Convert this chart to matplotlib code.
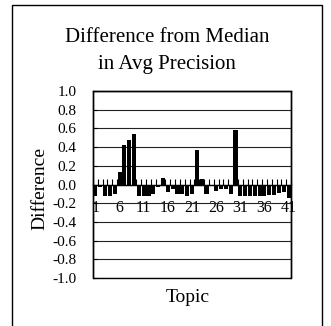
import numpy as np
import matplotlib.pyplot as plt
from matplotlib.patches import Rectangle

# difference from median average precision, topics 1..41
topics = list(range(1, 42))
diff = [-0.12, -0.03, -0.12, -0.12, -0.10, 0.13, 0.42, 0.48, 0.54, -0.12,
        -0.12, -0.12, -0.10, -0.03, 0.07, -0.08, -0.05, -0.10, -0.10, -0.12,
        -0.10, 0.37, 0.06, -0.10, -0.02, -0.07, -0.05, -0.05, -0.10, 0.58,
        -0.12, -0.12, -0.12, -0.12, -0.12, -0.12, -0.11, -0.11, -0.09, -0.08,
        -0.14]
ytick_vals = [-1.0, -0.8, -0.6, -0.4, -0.2, 0.0, 0.2, 0.4, 0.6, 0.8, 1.0]
xtick_labels = [1, 6, 11, 16, 21, 26, 31, 36, 41]

plt.rcParams['font.family'] = ['Liberation Serif', 'DejaVu Serif']

W, H = 331, 326
fig = plt.figure(figsize=(W / 100, H / 100), dpi=100)

# outer frame (bottom edge runs off the image)
fig.patches.append(Rectangle((12 / W, -0.05), 310 / W, 1.05 - 5 / H,
                             transform=fig.transFigure, fill=False,
                             edgecolor='black', linewidth=1.0))

ax = fig.add_axes([93 / W, 1 - 278 / H, 198 / W, 187 / H])
ax.bar(topics, diff, width=0.85, color='black', zorder=3)

ax.set_xlim(0.5, 41.5)
ax.set_ylim(-1.0, 1.0)
ax.set_yticks(ytick_vals)
ax.set_yticklabels(['%.1f' % v for v in ytick_vals], fontsize=11)
ax.yaxis.grid(True, color='#222222', linewidth=0.8)
ax.set_axisbelow(True)
ax.tick_params(axis='y', direction='in', length=3, pad=12)

# category axis crosses at zero
for s in ['left', 'right', 'top']:
    ax.spines[s].set_linewidth(1.0)
ax.spines['bottom'].set_position(('data', 0))
ax.spines['bottom'].set_linewidth(1.0)
ax.spines['bottom'].set_zorder(4)
ax.patch.set_edgecolor('black')
ax.patch.set_linewidth(1.0)
ax.set_xticks(np.arange(0.5, 42, 1.0))
ax.set_xticklabels([])
ax.tick_params(axis='x', direction='in', length=4, width=0.8)
ax.set_xticks(xtick_labels, minor=True)
ax.set_xticklabels([str(t) for t in xtick_labels], minor=True, fontsize=11.5)
ax.tick_params(axis='x', which='minor', length=0, pad=11)

fig.text(167 / W, 1 - 38 / H, 'Difference from Median', ha='center', va='center', fontsize=15)
fig.text(167 / W, 1 - 65 / H, 'in Avg Precision', ha='center', va='center', fontsize=15)
fig.text(40 / W, 1 - 188 / H, 'Difference', rotation=90, ha='center', va='center', fontsize=14)
fig.text(188 / W, 1 - 297 / H, 'Topic', ha='center', va='center', fontsize=14)

fig.savefig('out.png', dpi=100)
plt.close(fig)
